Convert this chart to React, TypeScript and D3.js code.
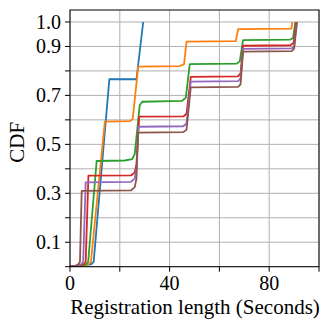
import React from 'react';
import * as d3 from 'd3';

// series: [seconds, cdf]
const blue: [number, number][] = [[0, 0], [3, 0.003], [8.5, 0.01], [9.5, 0.02], [15.8, 0.766], [26.7, 0.766], [29.4, 1.0]];
const orange: [number, number][] = [[0, 0], [3, 0.003], [7.5, 0.01], [8.4, 0.02], [14, 0.593], [24.2, 0.595], [25.2, 0.605], [27.4, 0.818], [44.1, 0.82], [45.8, 0.828], [46.8, 0.92], [66.6, 0.922], [67.5, 0.971], [88.9, 0.973], [89.3, 1.0]];
const green: [number, number][] = [[0, 0], [3, 0.003], [6.5, 0.01], [7.3, 0.02], [10.7, 0.432], [22, 0.434], [25, 0.44], [26, 0.46], [28, 0.66], [29, 0.674], [45, 0.678], [46.5, 0.69], [48.1, 0.828], [67, 0.83], [68.2, 0.84], [69.5, 0.926], [88.5, 0.928], [89.6, 0.935], [90.5, 1.0]];
const red: [number, number][] = [[0, 0], [3, 0.003], [5.5, 0.01], [6.3, 0.02], [7.4, 0.372], [24.5, 0.373], [26, 0.385], [26.7, 0.42], [27.8, 0.613], [45.5, 0.614], [46.8, 0.625], [48.5, 0.776], [67.5, 0.778], [68.5, 0.79], [69.5, 0.903], [88.5, 0.905], [89.8, 0.915], [90.8, 1.0]];
const purple: [number, number][] = [[0, 0], [2.5, 0.003], [4.5, 0.01], [5.3, 0.02], [6.3, 0.345], [24.5, 0.347], [26, 0.36], [26.7, 0.4], [27.5, 0.572], [45.5, 0.574], [46.8, 0.585], [48.5, 0.756], [67.5, 0.758], [68.5, 0.77], [69.5, 0.89], [89, 0.892], [90, 0.9], [91, 1.0]];
const brown: [number, number][] = [[0, 0], [2, 0.003], [3.3, 0.01], [4, 0.02], [4.7, 0.31], [24.5, 0.312], [26, 0.325], [26.7, 0.36], [27.3, 0.548], [45.5, 0.55], [46.8, 0.56], [48.5, 0.733], [67.5, 0.735], [68.5, 0.745], [69.5, 0.879], [89, 0.881], [90, 0.89], [91.2, 1.0]];

const series = [blue, orange, green, red, purple, brown];
const colors = ['#1f77b4', '#ff7f0e', '#2ca02c', '#d62728', '#9467bd', '#8c564b'];

const xTicks = [0, 20, 40, 60, 80, 100];
const xLabels = [0, 40, 80];
const yTicks = [0, 0.1, 0.2, 0.3, 0.4, 0.5, 0.6, 0.7, 0.8, 0.9, 1.0];
const yLabels = [0.1, 0.3, 0.5, 0.7, 0.9, 1.0];

const W = 329;
const H = 329;
const left = 70, right = 319, top = 10, bottom = 266.7;

const App = () => {
    const x = d3.scaleLinear().domain([0, 100]).range([left, right]);
    const y = d3.scaleLinear().domain([0, 1.049]).range([bottom, top]);
    const line = d3.line<[number, number]>().x(d => x(d[0])).y(d => y(d[1]));
    const font = '"Liberation Serif", "Times New Roman", serif';

    return (
        <svg width={W} height={H} style={{ position: 'absolute', left: 0, top: 0, background: '#fff' }}>
            <g stroke="#b0b0b0" strokeWidth={1}>
                {xTicks.map(t => <line key={'gx' + t} x1={x(t)} x2={x(t)} y1={top} y2={bottom} />)}
                {yTicks.map(t => <line key={'gy' + t} x1={left} x2={right} y1={y(t)} y2={y(t)} />)}
            </g>
            <defs>
                <clipPath id="plot"><rect x={left} y={top} width={right - left} height={bottom - top} /></clipPath>
            </defs>
            <g clipPath="url(#plot)" fill="none" strokeWidth={1.8} strokeLinejoin="round">
                {series.map((s, i) => <path key={i} d={line(s) || ''} stroke={colors[i]} />)}
            </g>
            <rect x={left} y={top} width={right - left} height={bottom - top} fill="none" stroke="#000" strokeWidth={1} />
            <g stroke="#000" strokeWidth={1}>
                {xTicks.map(t => <line key={'tx' + t} x1={x(t)} x2={x(t)} y1={bottom} y2={bottom + 5} />)}
                {yTicks.map(t => <line key={'ty' + t} x1={left - 5} x2={left} y1={y(t)} y2={y(t)} />)}
            </g>
            <g fontFamily={font} fontSize={20} fill="#000">
                {xLabels.map(t => <text key={'lx' + t} x={x(t)} y={290} textAnchor="middle">{t}</text>)}
                {yLabels.map(t => <text key={'ly' + t} x={left - 9} y={y(t)} dy="0.34em" textAnchor="end">{t.toFixed(1)}</text>)}
            </g>
            <text x={(left + right) / 2 + 0.5} y={314} textAnchor="middle" fontFamily={font} fontSize={21}>Registration length (Seconds)</text>
            <text transform={`translate(24,${(top + bottom) / 2 + 4}) rotate(-90)`} textAnchor="middle" fontFamily={font} fontSize={21}>CDF</text>
        </svg>
    );
};

export default App;
